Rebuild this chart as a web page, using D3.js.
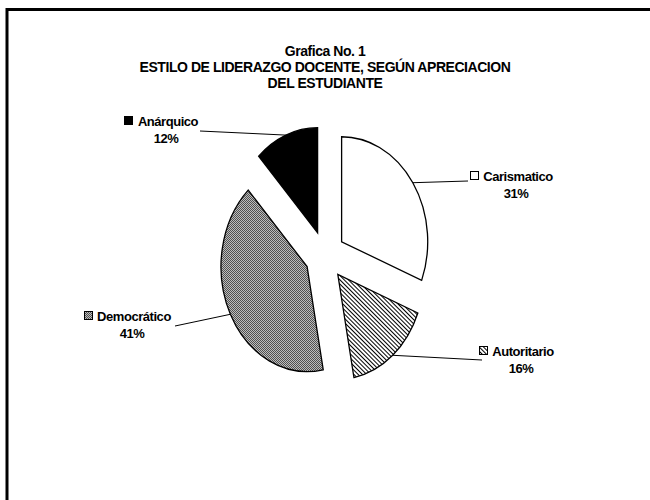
<!DOCTYPE html>
<html>
<head>
<meta charset="utf-8">
<script src="https://cdn.jsdelivr.net/npm/d3@7"></script>
<style>
  body { margin: 0; background: #fff; }
  text { font-family: "Liberation Sans", Arial, sans-serif; font-weight: bold; }
</style>
</head>
<body>
<div id="chart-area"></div>
<script>
// Data
var categories = ["Carismatico", "Autoritario", "Democrático", "Anárquico"];
var values = [31, 16, 41, 12];
var percentLabels = ["31%", "16%", "41%", "12%"];
var titleLines = ["Grafica No. 1", "ESTILO DE LIDERAZGO DOCENTE, SEGÚN APRECIACION", "DEL ESTUDIANTE"];

// Layout
var width = 650, height = 500;
var cx = 325, cy = 255.5, radius = 105, squash = 0.82, explode = 24.5;
var fills = ["#fff", "url(#hatch)", "url(#dots)", "#000"];
// label positions: [name centre x, name baseline y, leader end x, leader end y]
var labelPos = [
  [518, 181, 468, 181],
  [523, 356, 482, 360],
  [134, 321, 175, 326],
  [168, 126, 200, 131]
];

var svg = d3.select("#chart-area").append("svg")
    .attr("width", width)
    .attr("height", height);

// patterns, in plain page pixels
var defs = svg.append("defs");
var hatch = defs.append("pattern")
    .attr("id", "hatch")
    .attr("patternUnits", "userSpaceOnUse")
    .attr("width", 3).attr("height", 3)
    .attr("patternTransform", "rotate(-45)");
hatch.append("rect").attr("width", 3).attr("height", 3).attr("fill", "#fff");
hatch.append("rect").attr("width", 1).attr("height", 3).attr("fill", "#000");

var dots = defs.append("pattern")
    .attr("id", "dots")
    .attr("patternUnits", "userSpaceOnUse")
    .attr("width", 2).attr("height", 2);
dots.append("rect").attr("width", 2).attr("height", 2).attr("fill", "#bdbdbd");
dots.append("rect").attr("width", 1).attr("height", 1).attr("fill", "#505050");
dots.append("rect").attr("x", 1).attr("y", 1).attr("width", 1).attr("height", 1).attr("fill", "#505050");

// border
svg.append("rect")
    .attr("x", 7).attr("y", 9.5)
    .attr("width", 700).attr("height", 600)
    .attr("fill", "none")
    .attr("stroke", "#000")
    .attr("stroke-width", 3);

// title
svg.append("g").selectAll("text")
    .data(titleLines)
    .enter().append("text")
    .attr("x", cx)
    .attr("y", function (d, i) { return 56 + i * 16; })
    .attr("text-anchor", "middle")
    .attr("font-size", 14)
    .attr("letter-spacing", -0.45)
    .text(function (d) { return d; });

// pie
var pie = d3.pie().sort(null).value(function (d) { return d; });
var arc = d3.arc().innerRadius(0).outerRadius(radius);
var arcs = pie(values);

function mid(d) { return (d.startAngle + d.endAngle) / 2; }
function sliceTransform(d) {
    var a = mid(d);
    return "translate(" + cx + "," + cy + ") scale(" + squash + ",1) " +
        "translate(" + (Math.sin(a) * explode) + "," + (-Math.cos(a) * explode) + ")";
}

// clip each slice and fill it with an unscaled pattern, so the texture stays crisp
defs.selectAll("clipPath")
    .data(arcs)
    .enter().append("clipPath")
    .attr("id", function (d, i) { return "slice" + i; })
    .append("path")
    .attr("d", arc)
    .attr("transform", sliceTransform);

svg.append("g").selectAll("rect")
    .data(arcs)
    .enter().append("rect")
    .attr("x", 0).attr("y", 0)
    .attr("width", width).attr("height", height)
    .attr("clip-path", function (d, i) { return "url(#slice" + i + ")"; })
    .attr("fill", function (d, i) { return fills[i]; });

svg.append("g").selectAll("path")
    .data(arcs)
    .enter().append("path")
    .attr("d", arc)
    .attr("transform", sliceTransform)
    .attr("fill", "none")
    .attr("stroke", "#000")
    .attr("stroke-width", 1.3)
    .attr("vector-effect", "non-scaling-stroke");

// leader lines, from the middle of each slice's outer edge
svg.append("g").selectAll("line")
    .data(arcs)
    .enter().append("line")
    .attr("x1", function (d) { return cx + Math.sin(mid(d)) * (radius + explode) * squash; })
    .attr("y1", function (d) { return cy - Math.cos(mid(d)) * (radius + explode); })
    .attr("x2", function (d, i) { return labelPos[i][2]; })
    .attr("y2", function (d, i) { return labelPos[i][3]; })
    .attr("stroke", "#000")
    .attr("stroke-width", 1);

// labels
var labels = svg.append("g").selectAll("g")
    .data(arcs)
    .enter().append("g");

labels.append("text")
    .attr("class", "name")
    .attr("x", function (d, i) { return labelPos[i][0]; })
    .attr("y", function (d, i) { return labelPos[i][1]; })
    .attr("text-anchor", "middle")
    .attr("font-size", 13)
    .attr("letter-spacing", -0.45)
    .text(function (d, i) { return categories[i]; });

labels.append("text")
    .attr("x", function (d, i) { return labelPos[i][0] - 2; })
    .attr("y", function (d, i) { return labelPos[i][1] + 17; })
    .attr("text-anchor", "middle")
    .attr("font-size", 13)
    .attr("letter-spacing", -0.45)
    .text(function (d, i) { return percentLabels[i]; });

// legend keys in front of the names
labels.each(function (d, i) {
    var t = d3.select(this).select("text.name");
    var w = t.node().getComputedTextLength();
    d3.select(this).append("rect")
        .attr("x", Math.round(labelPos[i][0] - w / 2 - 13.5) + 0.5)
        .attr("y", labelPos[i][1] - 9.5)
        .attr("width", 8)
        .attr("height", 8)
        .attr("fill", fills[i])
        .attr("stroke", "#000")
        .attr("stroke-width", 1);
});
</script>
</body>
</html>
